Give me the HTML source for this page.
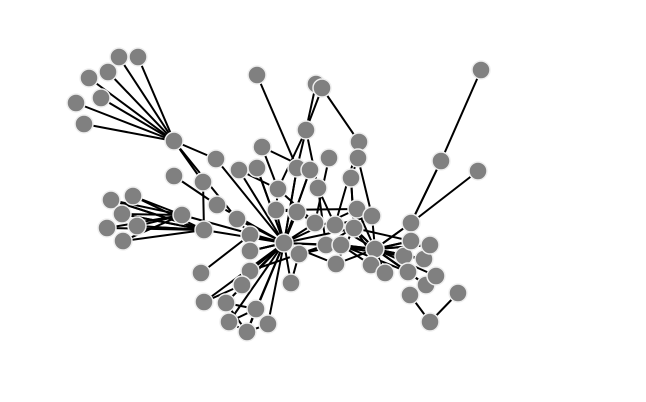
<!DOCTYPE html>
<html><head><meta charset="utf-8"><style>html,body{margin:0;padding:0;background:#fff;width:646px;height:402px;overflow:hidden}</style></head>
<body>
<svg id="chart" width="646" height="402" xmlns="http://www.w3.org/2000/svg">
<g id="edges"></g>
<g id="nodes"></g>
</svg>
<script>
const nodeX = [174,119,138,89,108,101,76,84,216,174,203,257,316,322,306,359,358,351,262,239,257,297,310,329,278,318,481,441,478,111,133,122,107,137,123,182,204,217,237,250,250,250,242,201,204,226,229,247,256,268,291,284,299,276,297,315,326,335,341,354,357,372,336,375,371,385,404,408,411,411,424,430,426,436,410,430,458];
const nodeY = [141,57,57,78,72,98,103,124,159,176,182,75,84,88,130,142,158,178,147,170,168,168,170,158,189,188,70,161,171,200,196,214,228,226,241,215,230,205,219,235,251,271,285,273,302,303,322,332,309,324,283,243,254,210,212,223,245,225,245,228,209,216,264,249,265,273,256,272,223,241,259,245,285,276,295,322,293];
const edgeFrom = [0,0,0,0,0,0,0,0,0,0,8,9,10,11,12,13,14,14,14,15,16,17,18,19,20,21,22,23,24,25,26,27,28,29,30,31,32,33,34,29,30,31,32,33,34,35,36,37,38,39,40,41,42,43,44,45,46,47,48,49,50,51,51,51,51,51,51,51,51,51,51,52,52,53,54,55,56,57,58,59,60,61,62,63,63,63,63,63,63,63,64,65,66,67,68,69,70,71,72,73,75,75,31,45,46,47,17,15,16,24,25,57,59,27,44,45,46,47,48,49,42,41,40,50,18,19,20,21,22,64,65,66,67,69,70,72,62,61,60,58,56,29,31,33];
const edgeTo   = [1,2,3,4,5,6,7,8,10,39,51,37,36,21,14,14,21,24,25,13,17,59,22,51,51,51,51,55,53,57,27,68,68,35,35,35,35,35,35,36,36,36,36,36,36,51,51,51,51,51,51,51,51,39,42,48,48,48,47,47,51,53,54,55,56,52,58,59,40,41,60,56,58,54,55,57,63,63,63,63,63,63,63,68,69,66,67,70,71,59,63,63,63,63,63,63,63,63,63,63,74,76,30,47,45,46,59,57,61,55,56,61,62,68,51,51,51,51,51,51,51,52,51,52,24,24,51,51,51,58,59,56,58,59,56,63,51,56,53,63,63,36,36,36];
const R = 9;
const eg = document.getElementById('edges');
const ng = document.getElementById('nodes');
const ns = 'http://www.w3.org/2000/svg';
for (let i = 0; i < edgeFrom.length; i++) {
  const a = edgeFrom[i], b = edgeTo[i];
  const l = document.createElementNS(ns, 'line');
  l.setAttribute('x1', nodeX[a]); l.setAttribute('y1', nodeY[a]);
  l.setAttribute('x2', nodeX[b]); l.setAttribute('y2', nodeY[b]);
  l.setAttribute('stroke', '#000'); l.setAttribute('stroke-width', '2');
  
  
  eg.appendChild(l);
}
for (let i = 0; i < nodeX.length; i++) {
  const c = document.createElementNS(ns, 'circle');
  c.setAttribute('cx', nodeX[i]); c.setAttribute('cy', nodeY[i]); c.setAttribute('r', R);
  c.setAttribute('fill', '#808080'); c.setAttribute('stroke', '#eeeeee'); c.setAttribute('stroke-width', '1.5');
  
  
  ng.appendChild(c);
}
</script>
</body></html>
